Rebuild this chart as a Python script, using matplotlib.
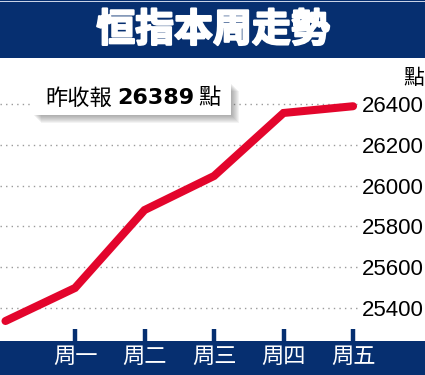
import matplotlib
matplotlib.use("Agg")
import matplotlib.pyplot as plt
from matplotlib.patches import Rectangle
from matplotlib import patheffects as pe

plt.rcParams['font.family'] = ['Noto Sans CJK TC', 'DejaVu Sans']

# ---- data ----
title = "恒指本周走勢"
days = ["周一", "周二", "周三", "周四", "周五"]
prev_close = 25336
closes = [25498, 25880, 26047, 26356, 26389]
yticks = [25400, 25600, 25800, 26000, 26200, 26400]
unit = "點"
note_pre, note_val, note_post = "昨收報", "26389", "點"

W, H = 425, 375
BLUE = "#062f70"
RED = "#e3052c"

fig = plt.figure(figsize=(W / 100, H / 100), dpi=100)
fig.patch.set_facecolor("white")


def fx(x):
    return x / W


def fy(y):
    return 1 - y / H


def prect(x0, y0, x1, y1, **kw):
    r = Rectangle((fx(x0), fy(y1)), fx(x1) - fx(x0), fy(y0) - fy(y1),
                  transform=fig.transFigure, **kw)
    fig.add_artist(r)
    return r


# banners
prect(0, 0, W, 58, facecolor=BLUE, edgecolor="none", zorder=0)
prect(0, 1, W, 2, facecolor="#c8d2e6", edgecolor="none", zorder=0.5)
prect(0, 341, W, H, facecolor=BLUE, edgecolor="none", zorder=0)

fig.text(fx(213), fy(30), title, color="white", fontsize=28, fontweight="black",
         ha="center", va="center",
         path_effects=[pe.withStroke(linewidth=1.5, foreground="white")])

# axes
ax = fig.add_axes([0, fy(341), fx(360), fy(58) - fy(341)])
ax.set_facecolor("none")
xs = list(range(0, len(closes) + 1))
ax.plot(xs, [prev_close] + closes, color=RED, lw=5.8,
        solid_capstyle="round", solid_joinstyle="miter", zorder=3, clip_on=True)
ax.set_xlim(-0.079, 5.10)
ax.set_ylim(25238, 26625.5)
for s in ax.spines.values():
    s.set_visible(False)
ax.set_yticks(yticks)
ax.set_yticklabels([str(v) for v in yticks])
ax.yaxis.tick_right()
ax.tick_params(axis="y", length=0, pad=1, labelsize=16, labelcolor="black")
for lab in ax.get_yticklabels():
    lab.set_fontfamily("Liberation Sans")
ax.grid(axis="y", color="#9a9a9a", lw=1.0, linestyle=(0, (1, 3)))
ax.set_xticks(range(1, len(days) + 1))
ax.set_xticklabels(days)
ax.tick_params(axis="x", direction="in", length=8.6, width=3.2, color=BLUE,
               labelcolor="white", labelsize=16, pad=3)

fig.text(fx(424), fy(78), unit, fontsize=15, ha="right", va="center")

# note box with shadow
for d in range(1, 9):
    prect(33 + d, 83 + d, 231 + d, 115 + d, facecolor="#555555", alpha=0.07,
          edgecolor="none", zorder=5)
prect(33, 83, 231, 115, facecolor="white", edgecolor="none", zorder=6)
fig.text(fx(45), fy(98), note_pre, fontsize=16, ha="left", va="center", zorder=7)
fig.text(fx(117), fy(98), note_val, fontsize=16, fontweight="bold",
         fontfamily="DejaVu Sans", ha="left", va="center", zorder=7)
fig.text(fx(198), fy(98), note_post, fontsize=16, ha="left", va="center", zorder=7)

fig.savefig("out.png", dpi=100, facecolor="white")
